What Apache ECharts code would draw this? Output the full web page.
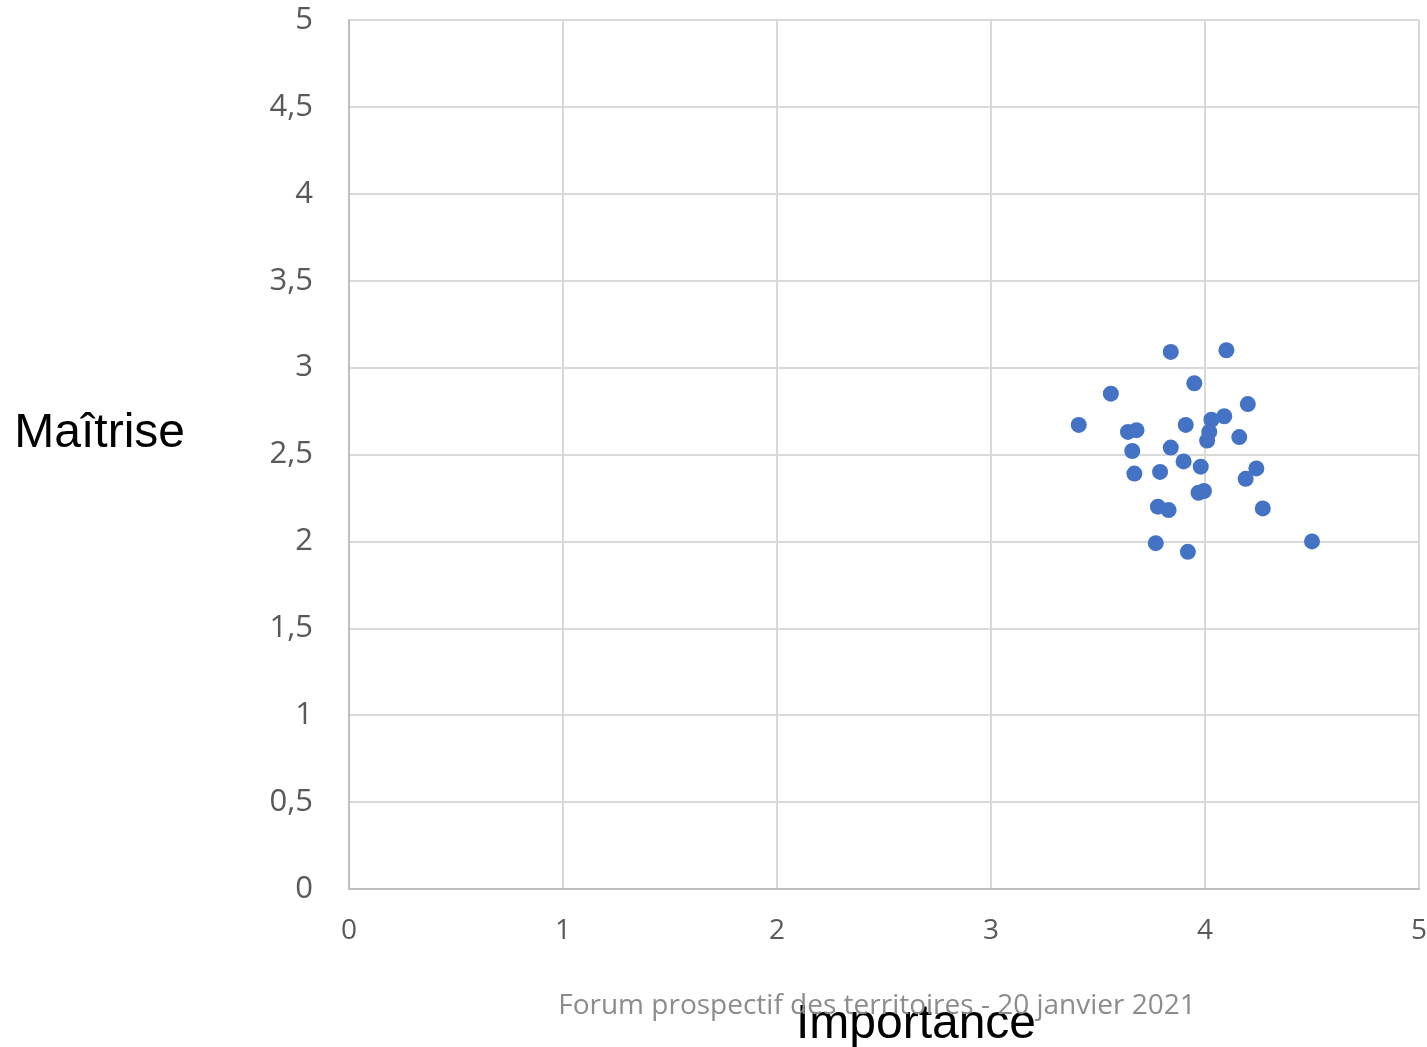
<!DOCTYPE html>
<html>
<head>
<meta charset="utf-8">
<script src="https://cdn.jsdelivr.net/npm/echarts@6/dist/echarts.min.js"></script>
<style>
  html, body { margin: 0; padding: 0; background: #fff; }
  #chart { width: 1427px; height: 1047px; }
</style>
</head>
<body>
<div id="chart"></div>
<script>
// importance (x) and maitrise (y)
var importance = [3.84, 4.10, 3.95, 3.56, 4.20, 3.41, 4.03, 4.09, 3.91, 3.64,
                  3.68, 4.02, 4.01, 4.16, 3.66, 3.84, 3.90, 3.98, 4.24, 4.19,
                  3.67, 3.79, 3.97, 3.995, 3.78, 3.83, 4.27, 3.77, 3.92, 4.50];
var maitrise = [3.09, 3.10, 2.91, 2.85, 2.79, 2.67, 2.70, 2.72, 2.67, 2.63,
                2.64, 2.63, 2.58, 2.60, 2.52, 2.54, 2.46, 2.43, 2.42, 2.36,
                2.39, 2.40, 2.28, 2.29, 2.20, 2.18, 2.19, 1.99, 1.94, 2.00];

var points = [];
for (var i = 0; i < importance.length; i++) {
    points.push([importance[i], maitrise[i]]);
}

var labelFmt = function (v) {
    return String(v).replace('.', ',');
};

var chart = echarts.init(document.getElementById('chart'));
chart.setOption({
    animation: false,
    title: {
        text: 'Forum prospectif des territoires - 20 janvier 2021',
        left: 872,
        top: 987,
        textAlign: 'center',
        textStyle: {
            fontFamily: 'Open Sans',
            fontWeight: 'normal',
            fontSize: 28,
            color: '#8c8c8c'
        }
    },
    grid: { left: 349, right: 8, top: 20, bottom: 158, outerBoundsMode: 'none' },
    xAxis: {
        type: 'value',
        min: 0,
        max: 5,
        interval: 1,
        name: 'Importance',
        nameLocation: 'middle',
        nameGap: 112,
        nameTextStyle: {
            fontFamily: 'Liberation Sans', fontSize: 48, color: '#000',
            padding: [0, 0, 0, 64]
        },
        axisLine: { show: true, lineStyle: { color: '#bfbfbf', width: 2 } },
        axisTick: { show: false },
        splitLine: { lineStyle: { color: '#d9d9d9', width: 2 } },
        axisLabel: {
            margin: 28,
            fontFamily: 'Open Sans',
            fontSize: 28,
            color: '#595959',
            formatter: labelFmt
        }
    },
    yAxis: {
        type: 'value',
        min: 0,
        max: 5,
        interval: 0.5,
        name: 'Maîtrise',
        nameLocation: 'middle',
        nameRotate: 0,
        nameGap: 164,
        nameTextStyle: {
            fontFamily: 'Liberation Sans', fontSize: 48, color: '#000',
            align: 'right', verticalAlign: 'bottom', lineHeight: 42
        },
        axisLine: { show: true, lineStyle: { color: '#bfbfbf', width: 2 } },
        axisTick: { show: false },
        splitLine: { lineStyle: { color: '#d9d9d9', width: 2 } },
        axisLabel: {
            margin: 36,
            fontFamily: 'Open Sans',
            fontSize: 31,
            color: '#595959',
            formatter: labelFmt
        }
    },
    series: [{
        type: 'scatter',
        symbolSize: 16,
        itemStyle: { color: '#4472C4', opacity: 1 },
        data: points
    }]
});
</script>
</body>
</html>
